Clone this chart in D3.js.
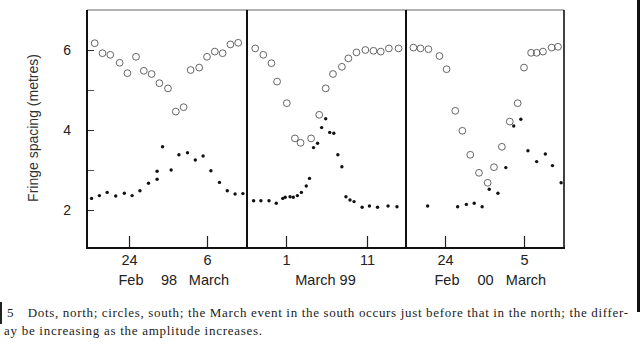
<!DOCTYPE html>
<html>
<head>
<meta charset="utf-8">
<script src="https://cdn.jsdelivr.net/npm/d3@7"></script>
<style>
  html, body { margin: 0; padding: 0; background: #fff; }
  svg { display: block; }
</style>
</head>
<body>
<svg id="chart" width="640" height="344"></svg>
<script>
// ---------- DATA (days are "day of March": 1 = 1 March, 0 = last day of Feb) ----------
const yTicks = [2, 4, 6];
const yMinorTicks = [3, 5];
const yLabel = "Fringe spacing (metres)";

// Panel 1998
const p98Year = 1998;
const p98TickDays = [-4, 6];
const p98TickLabels = ["24", "6"];
const p98Months = ["Feb", "March"];
const p98YearLabel = "98";
const p98SouthDays   = [-8.4, -7.4, -6.4, -5.2, -4.2, -3.1, -2.1, -1.1, -0.1, 1.0, 2.0, 3.0, 3.9, 5.0, 6.0, 7.0, 8.0, 9.0, 10.0];
const p98SouthValues = [6.17, 5.92, 5.88, 5.68, 5.42, 5.83, 5.48, 5.40, 5.17, 5.04, 4.46, 4.57, 5.50, 5.56, 5.83, 5.96, 5.92, 6.14, 6.18];
const p98NorthDays   = [-8.8, -7.8, -6.8, -5.7, -4.6, -3.6, -2.6, -1.5, -0.4, -0.4, 0.3, 1.4, 2.4, 3.5, 4.5, 5.5, 6.5, 7.6, 8.6, 9.6, 10.6];
const p98NorthValues = [2.29, 2.36, 2.44, 2.35, 2.42, 2.36, 2.48, 2.67, 2.77, 2.97, 3.58, 3.00, 3.38, 3.43, 3.25, 3.35, 2.98, 2.69, 2.48, 2.40, 2.41];

// Panel 1999
const p99Year = 1999;
const p99TickDays = [1, 11];
const p99TickLabels = ["1", "11"];
const p99Months = ["March 99"];
const p99YearLabel = "";
const p99SouthDays   = [-2.8, -1.8, -0.8, -0.1, 1.1, 2.1, 2.8, 4.1, 5.1, 5.9, 6.8, 7.9, 8.7, 9.7, 10.8, 11.8, 12.7, 13.7, 14.9];
const p99SouthValues = [6.04, 5.88, 5.67, 5.21, 4.67, 3.79, 3.68, 3.79, 4.38, 5.04, 5.40, 5.58, 5.79, 5.94, 6.00, 5.98, 5.96, 6.04, 6.04];
const p99NorthDays   = [-3.0, -2.1, -1.1, -0.2, 0.6, 0.9, 1.5, 1.9, 2.4, 2.9, 3.5, 3.9, 4.4, 4.9, 5.4, 5.9, 6.4, 6.9, 7.4, 7.9, 8.4, 8.9, 9.4, 10.4, 11.3, 12.3, 13.6, 14.7];
const p99NorthValues = [2.23, 2.23, 2.23, 2.17, 2.29, 2.32, 2.33, 2.32, 2.36, 2.44, 2.60, 2.79, 3.56, 3.67, 4.06, 4.28, 3.94, 3.92, 3.38, 3.08, 2.33, 2.25, 2.21, 2.07, 2.10, 2.07, 2.10, 2.08];

// Panel 2000
const p00Year = 2000;
const p00TickDays = [-5, 5];
const p00TickLabels = ["24", "5"];
const p00Months = ["Feb", "March"];
const p00YearLabel = "00";
const p00SouthDays   = [-9.0, -8.1, -7.1, -5.7, -4.8, -3.7, -2.8, -1.8, -0.7, 0.4, 1.2, 2.2, 3.2, 4.2, 5.0, 5.9, 6.6, 7.4, 8.5, 9.3];
const p00SouthValues = [6.06, 6.04, 6.02, 5.85, 5.52, 4.48, 3.98, 3.38, 2.93, 2.68, 3.07, 3.58, 4.21, 4.67, 5.56, 5.93, 5.93, 5.96, 6.06, 6.08];
const p00NorthDays   = [-7.2, -3.4, -2.3, -1.3, -0.3, 0.6, 1.7, 2.7, 3.7, 4.6, 5.5, 6.6, 7.7, 8.6, 9.7];
const p00NorthValues = [2.10, 2.08, 2.14, 2.17, 2.08, 2.52, 2.42, 3.06, 4.10, 4.27, 3.48, 3.21, 3.40, 3.11, 2.68];

const captionLine1 = "5\u2003Dots, north; circles, south; the March event in the south occurs just before that in the north; the differ-";
const captionLine2 = "ay be increasing as the amplitude increases.";

// ---------- LAYOUT ----------
const DAY = 864e5;
const dateOf = (year, d) => new Date(Date.UTC(year, 2, 1) + (d - 1) * DAY);
const plotTop = 10, plotBottom = 248;
const edges = [87, 247, 406, 564];
const panelDomains = [[-9.385, 11.128], [-3.815, 15.815], [-9.937, 10.063]];

const panels = [
  { year: p98Year, ticks: p98TickDays, tickLabels: p98TickLabels, months: p98Months, yearLabel: p98YearLabel,
    sd: p98SouthDays, sv: p98SouthValues, nd: p98NorthDays, nv: p98NorthValues },
  { year: p99Year, ticks: p99TickDays, tickLabels: p99TickLabels, months: p99Months, yearLabel: p99YearLabel,
    sd: p99SouthDays, sv: p99SouthValues, nd: p99NorthDays, nv: p99NorthValues },
  { year: p00Year, ticks: p00TickDays, tickLabels: p00TickLabels, months: p00Months, yearLabel: p00YearLabel,
    sd: p00SouthDays, sv: p00SouthValues, nd: p00NorthDays, nv: p00NorthValues }
];

const svg = d3.select("#chart");
const sans = "'Liberation Sans', Arial, Helvetica, sans-serif";
const serif = "'Liberation Serif', 'Times New Roman', serif";

const y = d3.scaleLinear().domain([1.05, 7]).range([plotBottom, plotTop]);

// Y axis (ticks inward)
const yAxisG = svg.append("g").attr("transform", `translate(${edges[0]},0)`)
  .call(d3.axisLeft(y).tickValues(yTicks).tickFormat(d3.format("d")).tickSizeInner(-7).tickSizeOuter(0).tickPadding(16));
yAxisG.select(".domain").remove();
yAxisG.selectAll("text").attr("font-family", sans).attr("font-size", 14).attr("fill", "#222");
yAxisG.selectAll("line").attr("stroke", "#333").attr("stroke-width", 1);
const yMinorG = svg.append("g").attr("transform", `translate(${edges[0]},0)`)
  .call(d3.axisLeft(y).tickValues(yMinorTicks).tickFormat("").tickSizeInner(-7).tickSizeOuter(0));
yMinorG.select(".domain").remove();
yMinorG.selectAll("line").attr("stroke", "#555").attr("stroke-width", 1);

// Y label
svg.append("text")
  .attr("transform", `translate(38,128) rotate(-90)`)
  .attr("text-anchor", "middle")
  .attr("font-family", sans).attr("font-size", 14).attr("fill", "#333")
  .text(yLabel);

panels.forEach((p, i) => {
  const x = d3.scaleUtc()
    .domain([dateOf(p.year, panelDomains[i][0]), dateOf(p.year, panelDomains[i][1])])
    .range([edges[i], edges[i + 1]]);

  const ax = svg.append("g").attr("transform", `translate(0,${plotBottom})`)
    .call(d3.axisBottom(x).tickValues(p.ticks.map(d => dateOf(p.year, d)))
      .tickFormat((d, k) => p.tickLabels[k]).tickSizeInner(-12).tickSizeOuter(0).tickPadding(7));
  ax.select(".domain").remove();
  ax.selectAll("line").attr("stroke", "#222").attr("stroke-width", 1.2);
  ax.selectAll("text").attr("font-family", sans).attr("font-size", 14.5).attr("fill", "#222");

  const tx = p.ticks.map(d => x(dateOf(p.year, d)));
  const lab = svg.append("g").attr("font-family", sans).attr("font-size", 14.5)
    .attr("fill", "#222").attr("text-anchor", "middle");
  if (p.months.length === 2) {
    lab.append("text").attr("x", tx[0] + 2).attr("y", 285).text(p.months[0]);
    lab.append("text").attr("x", (tx[0] + tx[1]) / 2 + 1).attr("y", 285).text(p.yearLabel);
    lab.append("text").attr("x", tx[1] + 2).attr("y", 285).text(p.months[1]);
  } else {
    lab.append("text").attr("x", (tx[0] + tx[1]) / 2 - 1).attr("y", 285).text(p.months[0]);
  }

  // south: open circles
  svg.append("g").selectAll("circle").data(p.sd.map((d, k) => [d, p.sv[k]])).join("circle")
    .attr("cx", d => x(dateOf(p.year, d[0])))
    .attr("cy", d => y(d[1]))
    .attr("r", 3.4)
    .attr("fill", "none")
    .attr("stroke", "#555")
    .attr("stroke-width", 0.9);

  // north: dots
  svg.append("g").selectAll("circle").data(p.nd.map((d, k) => [d, p.nv[k]])).join("circle")
    .attr("cx", d => x(dateOf(p.year, d[0])))
    .attr("cy", d => y(d[1]))
    .attr("r", 1.7)
    .attr("fill", "#111");
});

// Frame
const frame = svg.append("g").attr("stroke", "#111").attr("fill", "none");
frame.append("line").attr("x1", edges[0]).attr("x2", edges[3]).attr("y1", plotTop).attr("y2", plotTop)
  .attr("stroke", "#666").attr("stroke-width", 1.2);
frame.append("line").attr("x1", edges[0] - 1).attr("x2", edges[3] + 1).attr("y1", plotBottom).attr("y2", plotBottom)
  .attr("stroke-width", 2);
edges.forEach((e, k) => {
  frame.append("line").attr("x1", e).attr("x2", e).attr("y1", plotTop).attr("y2", plotBottom)
    .attr("stroke-width", k === 3 ? 1.6 : 2);
});

// Caption
svg.append("text").attr("x", 7).attr("y", 317)
  .attr("font-family", serif).attr("font-size", 13).attr("fill", "#222")
  .attr("textLength", 621).attr("lengthAdjust", "spacing")
  .text(captionLine1);
svg.append("text").attr("x", 4).attr("y", 335)
  .attr("font-family", serif).attr("font-size", 13).attr("fill", "#222")
  .attr("textLength", 258).attr("lengthAdjust", "spacing")
  .text(captionLine2);

// scan edges
svg.append("rect").attr("x", 637).attr("y", 0).attr("width", 3).attr("height", 312).attr("fill", "#111");
svg.append("rect").attr("x", 0).attr("y", 302).attr("width", 2).attr("height", 22).attr("fill", "#222");
</script>
</body>
</html>
